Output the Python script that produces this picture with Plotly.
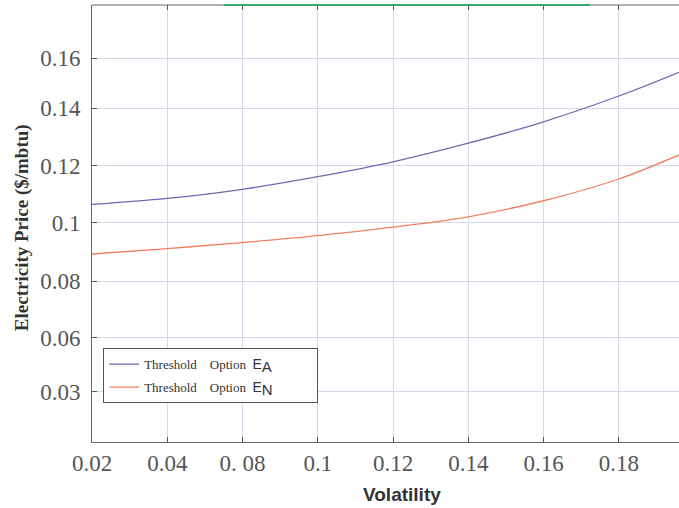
import plotly.graph_objects as go

# Volatility grid and threshold option prices ($/mbtu)
volatility = [0.04, 0.06, 0.08, 0.10, 0.12, 0.14, 0.16, 0.18, 0.196]
price_ea = [0.1064, 0.1085, 0.1117, 0.1161, 0.1213, 0.1278, 0.1353, 0.1443, 0.1526]
price_en = [0.0891, 0.0910, 0.0931, 0.0955, 0.0985, 0.1021, 0.1077, 0.1153, 0.1237]

# Volatility span of the green marker along the top of the frame
cap_x = [0.075, 0.1723]

x_tickvals = [0.04, 0.06, 0.08, 0.10, 0.12, 0.14, 0.16, 0.18]
x_ticktext = ["0.02", "0.04", "0. 08", "0.1", "0.12", "0.14", "0.16", "0.18"]
y_tickvals = [0.0409, 0.0598, 0.0796, 0.1, 0.1199, 0.14, 0.1575]
y_ticktext = ["0.03", "0.06", "0.08", "0.1", "0.12", "0.14", "0.16"]

X_RANGE = [0.04, 0.196]
Y_RANGE = [0.0234, 0.1761]

SERIF = "Liberation Serif"
SANS = "Liberation Sans"
GRID = "#d9d5ec"
FRAME = "#666666"


def legend_name(sub):
    return (f"Threshold&nbsp;&nbsp;&nbsp;&nbsp;Option&nbsp;&nbsp;"
            f"<span style='font-family:{SANS};font-size:14px'>E</span>"
            f"<sub><span style='font-family:{SANS};font-size:15px'>{sub}</span></sub>"
            + "&nbsp;" * 12)


fig = go.Figure()
fig.add_trace(go.Scatter(
    x=volatility, y=price_ea, mode="lines", line_shape="spline",
    line=dict(color="#7467b3", width=1.3), name=legend_name("A"),
    legendgroup="ea",
))
fig.add_trace(go.Scatter(
    x=volatility, y=price_en, mode="lines", line_shape="spline",
    line=dict(color="#f2805f", width=1.3), name=legend_name("N"),
    legendgroup="en",
))

# Top-side tick marks on an overlaid axis (no line of its own)
fig.add_trace(go.Scatter(x=[X_RANGE[0]], y=[Y_RANGE[0]], xaxis="x2",
                         mode="markers", marker=dict(opacity=0),
                         showlegend=False, hoverinfo="skip"))

# Top frame edge, then the green segment over it
fig.add_shape(type="line", xref="paper", yref="paper", layer="above",
              x0=0, x1=1, y0=1, y1=1, line=dict(color=FRAME, width=1))
fig.add_shape(
    type="line", xref="x", yref="paper", layer="above",
    x0=cap_x[0], x1=cap_x[1], y0=1, y1=1,
    line=dict(color="#3aa66a", width=2),
)

fig.update_layout(
    width=679, height=508,
    margin=dict(l=92, r=0, t=5, b=66),
    paper_bgcolor="white", plot_bgcolor="white",
    font=dict(family=SERIF, color="#555555"),
    legend=dict(
        x=0.019, y=0.2146, xanchor="left", yanchor="top",
        bgcolor="white", bordercolor="#555555", borderwidth=1,
        font=dict(family=SERIF, size=13, color="#333333"),
        tracegroupgap=3, itemwidth=30,
    ),
    showlegend=True,
    xaxis2=dict(overlaying="x", side="top", range=X_RANGE, tickmode="array",
                tickvals=x_tickvals, showticklabels=False, showgrid=False,
                zeroline=False, showline=False, ticks="inside", ticklen=5,
                tickcolor="#555555"),
    xaxis=dict(
        range=X_RANGE, tickmode="array", tickvals=x_tickvals, ticktext=x_ticktext,
        showgrid=True, gridcolor=GRID, gridwidth=1, zeroline=False,
        showline=True, linecolor=FRAME, linewidth=1,
        ticks="inside", ticklen=5, tickcolor="#555555", ticklabelstandoff=0,
        tickfont=dict(family=SERIF, size=23, color="#555555"),
    ),
    yaxis=dict(
        range=Y_RANGE, tickmode="array", tickvals=y_tickvals, ticktext=y_ticktext,
        showgrid=True, gridcolor=GRID, gridwidth=1, zeroline=False,
        showline=True, linecolor=FRAME, linewidth=1,
        ticks="inside", ticklen=5, tickcolor="#555555", ticklabelstandoff=6,
        tickfont=dict(family=SERIF, size=23, color="#555555"),
    ),
)

fig.add_annotation(
    text="<b>Volatility</b>", xref="paper", yref="paper",
    x=(402 - 92) / 587, y=-(494 - 441.7) / 436.7,
    xanchor="center", yanchor="middle", showarrow=False,
    font=dict(family=SANS, size=19, color="#333333"),
)
fig.add_annotation(
    text="<b>Electricity Price ($/mbtu)</b>", xref="paper", yref="paper",
    x=-(92 - 22) / 587, y=(441.7 - 228) / 436.7, textangle=-90,
    xanchor="center", yanchor="middle", showarrow=False,
    font=dict(family=SERIF, size=19, color="#333333"),
)

fig.write_html("out.html")
